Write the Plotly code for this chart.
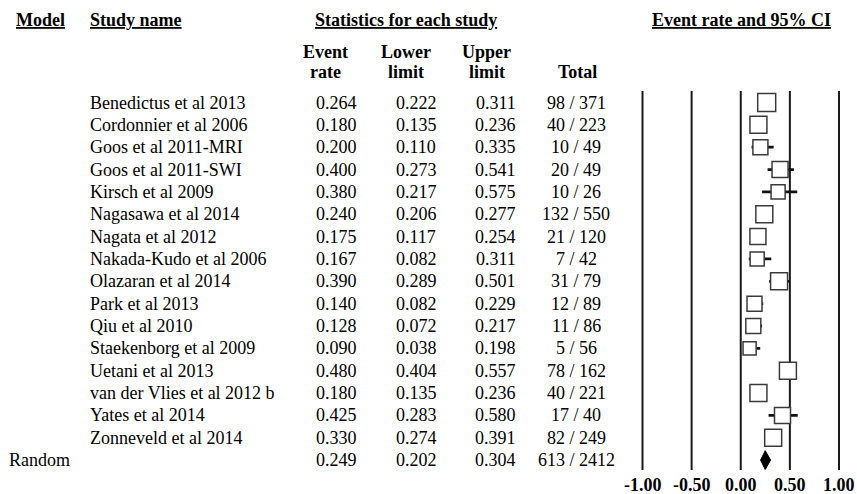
import plotly.graph_objects as go

# ---------------- data ----------------
study_names = [
    "Benedictus et al 2013", "Cordonnier et al 2006", "Goos et al 2011-MRI",
    "Goos et al 2011-SWI", "Kirsch et al 2009", "Nagasawa et al 2014",
    "Nagata et al 2012", "Nakada-Kudo et al 2006", "Olazaran et al 2014",
    "Park et al 2013", "Qiu et al 2010", "Staekenborg et al 2009",
    "Uetani et al 2013", "van der Vlies et al 2012 b", "Yates et al 2014",
    "Zonneveld et al 2014",
]
event_rate = [0.264, 0.180, 0.200, 0.400, 0.380, 0.240, 0.175, 0.167,
              0.390, 0.140, 0.128, 0.090, 0.480, 0.180, 0.425, 0.330]
lower_limit = [0.222, 0.135, 0.110, 0.273, 0.217, 0.206, 0.117, 0.082,
               0.289, 0.082, 0.072, 0.038, 0.404, 0.135, 0.283, 0.274]
upper_limit = [0.311, 0.236, 0.335, 0.541, 0.575, 0.277, 0.254, 0.311,
               0.501, 0.229, 0.217, 0.198, 0.557, 0.236, 0.580, 0.391]
totals = ["98 / 371", "40 / 223", "10 / 49", "20 / 49", "10 / 26", "132 / 550",
          "21 / 120", "7 / 42", "31 / 79", "12 / 89", "11 / 86", "5 / 56",
          "78 / 162", "40 / 221", "17 / 40", "82 / 249"]
# relative weight of each study (read from the square areas)
rel_weight = [7.2, 6.4, 5.0, 5.7, 4.4, 6.4, 5.7, 4.4,
              6.4, 5.0, 5.0, 3.8, 6.4, 6.4, 5.7, 6.4]

pooled_model = "Random"
pooled_rate = 0.249
pooled_lower = 0.202
pooled_upper = 0.304
pooled_total = "613 / 2412"

x_ticks = [-1.0, -0.5, 0.0, 0.5, 1.0]

# ---------------- layout helpers ----------------
W, H = 857, 494
FONT = "Liberation Serif, Times New Roman, serif"
FS = 18


def px(x):
    return x / W


def py(y):
    return 1 - y / H


ROW0, ROWH = 102.5, 22.35
PLOT_TOP, PLOT_BOT = 91, 470
y_top = (PLOT_TOP - ROW0) / ROWH
y_bot = (PLOT_BOT - ROW0) / ROWH

X_M1, X_P1 = 642.5, 839.0          # pixel positions of -1 and +1
unit = (X_P1 - X_M1) / 2           # pixels per unit on the x axis
pad = 0.03
dom_l = X_M1 - pad * unit
dom_r = X_P1 + pad * unit

n = len(study_names)
rows = list(range(n))

fig = go.Figure()

# confidence interval lines
ci_x, ci_y = [], []
for i in rows:
    ci_x += [lower_limit[i], upper_limit[i], None]
    ci_y += [i, i, None]
fig.add_trace(go.Scatter(x=ci_x, y=ci_y, mode="lines",
                         line=dict(color="#111111", width=2.8),
                         hoverinfo="skip", showlegend=False))

# invisible hover points at the estimates
fig.add_trace(go.Scatter(x=event_rate, y=rows, mode="markers",
                         marker=dict(size=1, color="rgba(0,0,0,0)"),
                         hoverinfo="x", showlegend=False))

# study squares (white, drawn above the CI lines); side scales with weight
for i in rows:
    side = (rel_weight[i] * 45) ** 0.5           # pixels
    hx = side / 2 / unit
    hy = side / 2 / ROWH
    fig.add_shape(type="rect", xref="x", yref="y",
                  x0=event_rate[i] - hx, x1=event_rate[i] + hx,
                  y0=i - hy, y1=i + hy, fillcolor="white",
                  line=dict(color="#3a3a3a", width=1.5), layer="above")

# pooled diamond
r = n
h = 0.42
fig.add_trace(go.Scatter(
    x=[pooled_lower, pooled_rate, pooled_upper, pooled_rate, pooled_lower],
    y=[r, r - h, r, r + h, r], mode="lines", fill="toself",
    fillcolor="black", line=dict(color="black", width=1),
    hoverinfo="skip", showlegend=False))

# vertical reference lines
for t in x_ticks:
    fig.add_shape(type="line", xref="x", yref="y", x0=t, x1=t,
                  y0=y_bot, y1=y_top, line=dict(color="#1a1a1a", width=2),
                  layer="below")

ann = []


def txt(text, x, y, xanchor="center", yref="paper", xref="paper", bold=False):
    ann.append(dict(text=("<b>%s</b>" % text) if bold else text,
                    x=x, y=y, xref=xref, yref=yref, xanchor=xanchor,
                    yanchor="middle", showarrow=False,
                    font=dict(family=FONT, size=FS, color="black")))


# headers
txt("<u>Model</u>", px(14), py(20), "left", bold=True)
txt("<u>Study name</u>", px(88), py(20), "left", bold=True)
txt("<u>Statistics for each study</u>", px(406), py(20), bold=True)
txt("<u>Event rate and 95% CI</u>", px(741), py(20), bold=True)
H_EV, H_LO, H_UP, H_TOT = 325, 406, 487, 577
txt("Event", px(H_EV), py(52), bold=True)
txt("rate", px(H_EV), py(72), bold=True)
txt("Lower", px(H_LO), py(52), bold=True)
txt("limit", px(H_LO), py(72), bold=True)
txt("Upper", px(H_UP), py(52), bold=True)
txt("limit", px(H_UP), py(72), bold=True)
txt("Total", px(H_TOT), py(72), bold=True)

COL_EV, COL_LO, COL_UP, COL_TOT = 336, 416, 496, 576
for i in rows:
    txt(study_names[i], px(88), i, "left", yref="y")
    txt("%.3f" % event_rate[i], px(COL_EV), i, yref="y")
    txt("%.3f" % lower_limit[i], px(COL_LO), i, yref="y")
    txt("%.3f" % upper_limit[i], px(COL_UP), i, yref="y")
    txt(totals[i], px(COL_TOT), i, yref="y")

txt(pooled_model, px(7), n, "left", yref="y")
txt("%.3f" % pooled_rate, px(COL_EV), n, yref="y")
txt("%.3f" % pooled_lower, px(COL_LO), n, yref="y")
txt("%.3f" % pooled_upper, px(COL_UP), n, yref="y")
txt(pooled_total, px(COL_TOT), n, yref="y")

# axis tick labels
for t in x_ticks:
    txt("%.2f" % t, t, py(484.5), xref="x", bold=True)

fig.update_layout(
    width=W, height=H,
    margin=dict(l=0, r=0, t=0, b=0),
    paper_bgcolor="white", plot_bgcolor="white",
    annotations=ann,
    xaxis=dict(domain=[px(dom_l), px(dom_r)], range=[-1 - pad, 1 + pad],
               showgrid=False, zeroline=False, showline=False,
               showticklabels=False, ticks=""),
    yaxis=dict(domain=[py(PLOT_BOT), py(PLOT_TOP)], range=[y_bot, y_top],
               showgrid=False, zeroline=False, showline=False,
               showticklabels=False, ticks=""),
    showlegend=False,
)

fig.write_html(
    "out.html",
    config={"displayModeBar": False},
    post_script="document.body.style.margin='0px';"
                "document.documentElement.style.overflow='hidden';",
)
